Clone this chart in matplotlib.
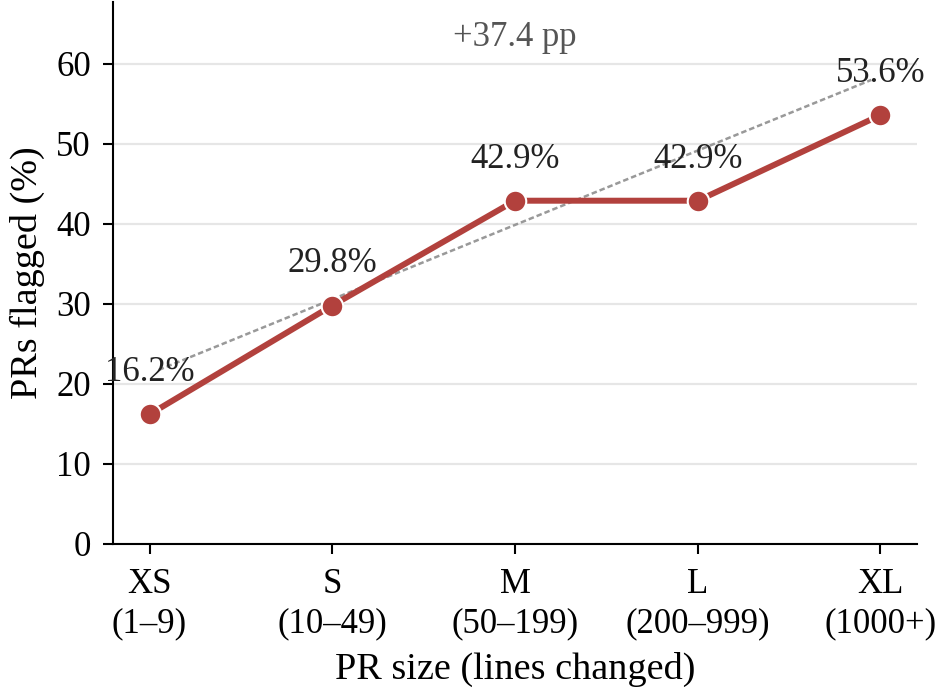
import matplotlib
matplotlib.use("Agg")
import matplotlib.pyplot as plt

# data
sizes = ["XS", "S", "M", "L", "XL"]
ranges = ["(1–9)", "(10–49)", "(50–199)", "(200–999)", "(1000+)"]
flagged = [16.2, 29.8, 42.9, 42.9, 53.6]
trend_x = [0.05, 3.95]
trend_y = [21.75, 58.0]
delta_label = "+37.4 pp"

plt.rcParams['font.family'] = ['Liberation Serif', 'DejaVu Serif']

fig = plt.figure(figsize=(9.37, 6.95), dpi=100)
ax = fig.add_axes([0.1206, 0.2173, 0.8581, 0.78])

x = list(range(len(sizes)))
red = '#b2413d'

ax.grid(axis='y', color='#e6e6e6', linewidth=1.6, zorder=0)
ax.plot(trend_x, trend_y, color='#999999', linewidth=1.8, dashes=(2.2, 1.2), zorder=2)
ax.plot(x, flagged, color=red, linewidth=4.3, marker='o', markersize=15.5,
        markerfacecolor=red, markeredgecolor='white', markeredgewidth=1.5, zorder=3)

for xi, v in zip(x, flagged):
    ax.annotate(f"{v:.1f}%", (xi, v), xytext=(0, 30), textcoords='offset points',
                ha='center', va='center', fontsize=25, color='#222222', zorder=4)

ax.text(2, 63.3, delta_label, ha='center', va='center', fontsize=25, color='#555555')

ax.set_xlim(-0.2, 4.2)
ax.set_ylim(0, 67.75)
ax.set_yticks([0, 10, 20, 30, 40, 50, 60])
ax.set_xticks(x)
ax.set_xticklabels([f"{s}\n{r}" for s, r in zip(sizes, ranges)], linespacing=1.25)
ax.tick_params(axis='both', labelsize=25, length=7, width=1.5, color='black')
ax.tick_params(axis='y', pad=9)
ax.tick_params(axis='x', pad=10)

for side in ['top', 'right']:
    ax.spines[side].set_visible(False)
for side in ['left', 'bottom']:
    ax.spines[side].set_linewidth(1.5)

ax.set_xlabel("PR size (lines changed)", fontsize=27.5, labelpad=9)
ax.set_ylabel("PRs flagged (%)", fontsize=27.5, labelpad=8)

fig.savefig("out.png", dpi=100)
